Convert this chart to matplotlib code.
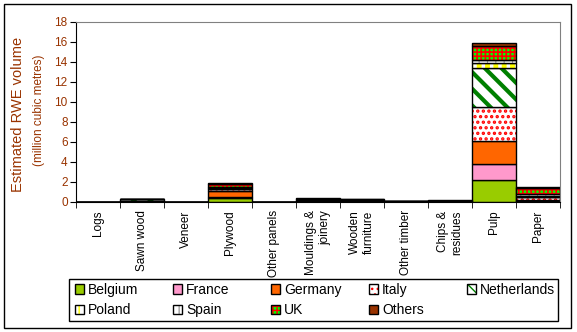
import numpy as np
import matplotlib.pyplot as plt
from matplotlib.legend_handler import HandlerTuple
from matplotlib.patches import Rectangle

plt.rcParams['font.family'] = ['Liberation Sans', 'DejaVu Sans']

products = ["Logs", "Sawn wood", "Veneer", "Plywood", "Other panels",
            "Mouldings &\njoinery", "Wooden\nfurniture", "Other timber",
            "Chips &\nresidues", "Pulp", "Paper"]
countries = ["Belgium", "France", "Germany", "Italy", "Netherlands",
             "Poland", "Spain", "UK", "Others"]

# million m3 RWE, one list per country, in product order
belgium     = [0, 0.02, 0, 0.40, 0, 0.02, 0.02, 0.01, 0.01, 2.24, 0.10]
france      = [0, 0.01, 0, 0.05, 0, 0.05, 0.02, 0.01, 0.01, 1.60, 0.05]
germany     = [0, 0.01, 0, 0.60, 0, 0.05, 0.05, 0.01, 0.01, 2.26, 0.05]
italy       = [0, 0.01, 0, 0.20, 0, 0.05, 0.05, 0.01, 0.01, 3.40, 0.25]
netherlands = [0, 0.22, 0, 0.05, 0, 0.05, 0.04, 0.01, 0.01, 3.84, 0.05]
poland      = [0, 0.01, 0, 0.05, 0, 0.03, 0.03, 0.01, 0.01, 0.56, 0.05]
spain       = [0, 0.01, 0, 0.10, 0, 0.03, 0.03, 0.01, 0.01, 0.27, 0.20]
uk          = [0, 0.01, 0, 0.30, 0, 0.05, 0.04, 0.02, 0.02, 1.40, 0.60]
others      = [0, 0.01, 0, 0.10, 0, 0.07, 0.02, 0.01, 0.11, 0.27, 0.10]

series = [belgium, france, germany, italy, netherlands, poland, spain, uk, others]

# face colour, hatch, hatch colour, hatch line width
styles = {
    "Belgium":     ("#99CC00", None, "#99CC00", 1.0),
    "France":      ("#FF99CC", None, "#FF99CC", 1.0),
    "Germany":     ("#FF6600", None, "#FF6600", 1.0),
    "Italy":       ("white", "...", "#FF0000", 1.6),
    "Netherlands": ("white", "\\\\", "#008000", 3.0),
    "Poland":      ("white", "||", "#FFFF00", 3.5),
    "Spain":       ("white", "||", "#A0A0A0", 0.8),
    "UK":          ("#00FF00", "++++", "#FF0000", 1.2),
    "Others":      ("#993300", None, "#993300", 1.0),
}

brown = "#993300"
W, H = 577, 332

fig = plt.figure(figsize=(W / 100, H / 100), dpi=100)
ax = fig.add_axes([76 / W, 1 - 202 / H, 484 / W, 180.3 / H])

x = np.arange(len(products))
bottom = np.zeros(len(products))
handles = []
for name, vals in zip(countries, series):
    face, hatch, hcol, hlw = styles[name]
    vals = np.array(vals)
    with plt.rc_context({'hatch.linewidth': hlw}):
        filled = ax.bar(x, vals, bottom=bottom, width=1.0, color=face,
                        edgecolor=hcol, hatch=hatch, linewidth=0)
    outline = ax.bar(x, vals, bottom=bottom, width=1.0, fill=False,
                     edgecolor="black", linewidth=1.0)
    handles.append((filled, outline))
    bottom += vals

ax.set_xlim(-0.5, len(products) - 0.5)
ax.set_ylim(0, 18)
ax.set_yticks(np.arange(0, 19, 2))
ax.tick_params(axis='y', direction='out', length=4, labelsize=8.5,
               labelcolor=brown, pad=2)

ax.set_xticks(x)
ax.set_xticklabels(products, rotation=90, fontsize=8.5, va='top',
                   multialignment='right')
ax.tick_params(axis='x', which='major', length=0, pad=6)
ax.set_xticks(np.arange(-0.5, len(products)), minor=True)
ax.tick_params(axis='x', which='minor', direction='out', length=4)

for side in ('top', 'right'):
    ax.spines[side].set_color('#808080')

fig.text(18 / W, 1 - 114 / H, "Estimated RWE volume", rotation=90,
         ha='center', va='center', fontsize=10.5, color=brown)
fig.text(39 / W, 1 - 110 / H, "(million cubic metres)", rotation=90,
         ha='center', va='center', fontsize=8.5, color=brown)

# one small legend per column so the columns sit at even steps
columns = [[0, 5], [1, 6], [2, 7], [3, 8], [4]]
for k, col in enumerate(columns):
    fig.legend([handles[i] for i in col], [countries[i] for i in col],
               handler_map={tuple: HandlerTuple(ndivide=1)},
               loc='upper left', bbox_to_anchor=((75 + 98 * k) / W, 1 - 283 / H),
               bbox_transform=fig.transFigure, fontsize=10,
               frameon=False, borderpad=0, borderaxespad=0,
               handlelength=0.65, handleheight=0.65, handletextpad=0.3,
               labelspacing=0.45)

fig.add_artist(Rectangle((69 / W, 1 - 321 / H), 489 / W, 42 / H,
                         transform=fig.transFigure, fill=False,
                         edgecolor='black', linewidth=1.0))
fig.add_artist(Rectangle((4 / W, 4 / H), 567 / W, 324 / H,
                         transform=fig.transFigure, fill=False,
                         edgecolor='black', linewidth=1.0))

fig.savefig("out.png", dpi=100)
